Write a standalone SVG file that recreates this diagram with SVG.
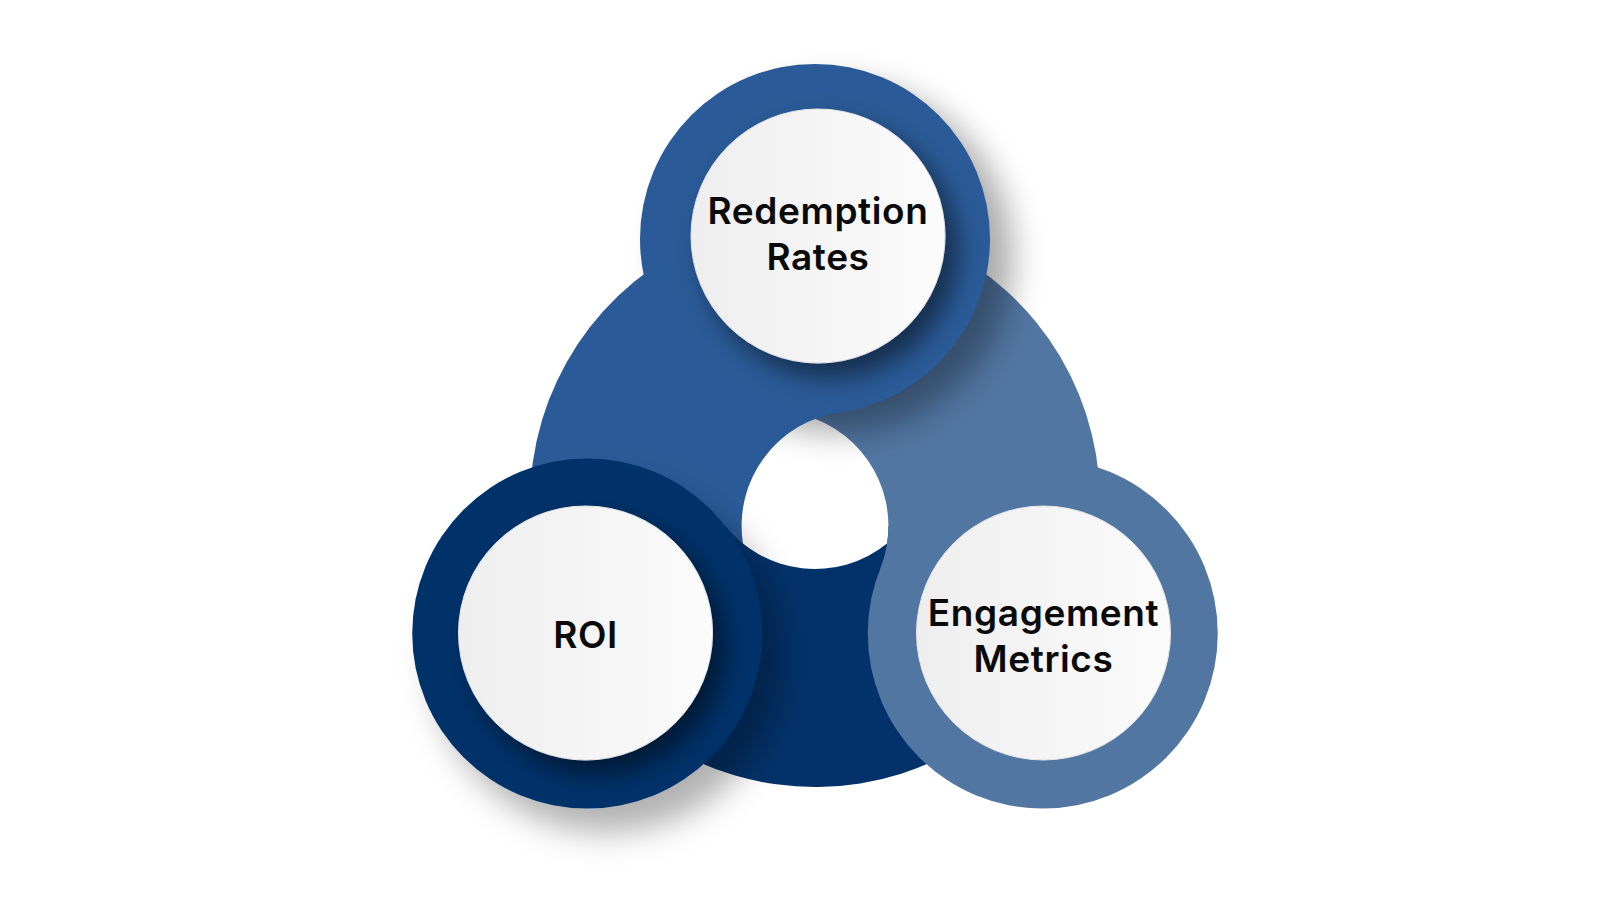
<svg xmlns="http://www.w3.org/2000/svg" xmlns:xlink="http://www.w3.org/1999/xlink" width="1600" height="900" viewBox="0 0 1600 900">
  <style>
    .lbl { font-family: Inter, "Noto Sans", "Liberation Sans", sans-serif; font-weight: 600; font-size: 37px; fill: #0a0a0a; text-anchor: middle; letter-spacing: 0.6px; }
    .mid { fill: #2A5B98; }
    .dark { fill: #03326A; }
    .light { fill: #5276A2; }
    .inner { fill: url(#whiteGrad); stroke: #e6e6e6; stroke-width: 1; }
  </style>
  <defs>
    <linearGradient id="whiteGrad" x1="0" y1="0" x2="1" y2="0">
      <stop offset="0" stop-color="#eeeeee"/>
      <stop offset="1" stop-color="#fbfbfb"/>
    </linearGradient>
    <filter id="blur" x="-40%" y="-40%" width="180%" height="180%">
      <feGaussianBlur stdDeviation="16"/>
    </filter>
    <filter id="shNode" x="-40%" y="-40%" width="180%" height="180%">
      <feDropShadow dx="20" dy="24" stdDeviation="16" flood-color="#000" flood-opacity="0.3"/>
    </filter>
    <filter id="shInner" x="-40%" y="-40%" width="180%" height="180%">
      <feDropShadow dx="12" dy="14" stdDeviation="13" flood-color="#000" flood-opacity="0.5"/>
    </filter>
    <path id="seg" d="M724.68 525.18 L538.94 572.84 A285 285 0 0 0 1061.82 644.5 L887.05 543.6 A115 115 0 0 1 724.68 525.18 Z"/>
    <path id="segHead" d="M724.68 525.18 L538.94 572.84 A285 285 0 0 0 603.21 692.7 L757.63 553.66 A115 115 0 0 1 724.68 525.18 Z"/>
  </defs>
  <rect width="1600" height="900" fill="#ffffff"/>

  <g id="ring">
    <use xlink:href="#seg" href="#seg" class="light" transform="rotate(-120 815 502)"/>
    <circle id="shadow-redemption" cx="838" cy="258" r="175" fill="#000" opacity="0.33" filter="url(#blur)"/>
    <use xlink:href="#seg" href="#seg" class="mid" transform="rotate(120 815 502)"/>
    <use xlink:href="#seg" href="#seg" class="dark"/>
    <use xlink:href="#segHead" href="#segHead" class="light" transform="rotate(-120 815 502)"/>
  </g>

  <g id="node-redemption">
    <circle cx="815" cy="239" r="175" class="mid"/>
    <circle cx="818" cy="236" r="127" class="inner" filter="url(#shInner)"/>
    <text class="lbl" x="818" y="224">Redemption</text>
    <text class="lbl" x="818" y="270">Rates</text>
  </g>

  <g id="node-roi">
    <circle cx="587.23" cy="633.5" r="175" class="dark" filter="url(#shNode)"/>
    <circle cx="585.5" cy="633" r="127" class="inner" filter="url(#shInner)"/>
    <text class="lbl" x="585.5" y="648">ROI</text>
  </g>

  <g id="node-engagement">
    <circle cx="1042.77" cy="633.5" r="175" class="light"/>
    <circle cx="1043.5" cy="633" r="127" class="inner"/>
    <text class="lbl" x="1043.5" y="626">Engagement</text>
    <text class="lbl" x="1043.5" y="672">Metrics</text>
  </g>
</svg>
